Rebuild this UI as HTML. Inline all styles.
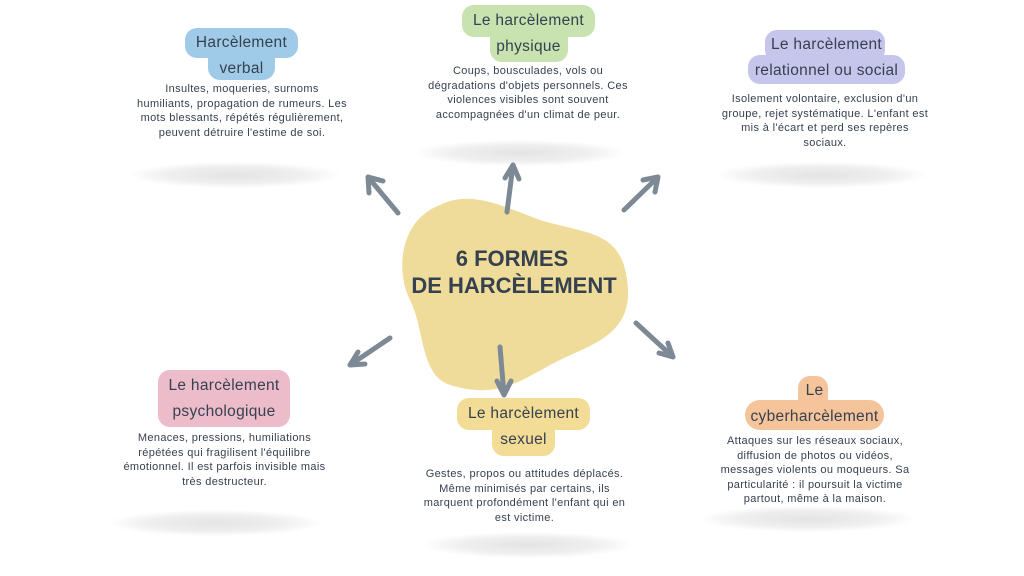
<!DOCTYPE html>
<html><head><meta charset="utf-8"><style>
*{margin:0;padding:0;box-sizing:border-box}
body{width:1024px;height:576px;background:#fff;position:relative;overflow:hidden;font-family:"Liberation Sans",sans-serif;color:#36414f}
.p{position:absolute;border-radius:12px}
.t{position:absolute;font-size:15.5px;text-align:center;white-space:nowrap;line-height:26px;letter-spacing:0.3px}
.b{position:absolute;font-size:11px;line-height:14.5px;text-align:center;letter-spacing:0.35px}
.s{position:absolute;height:26px;border-radius:50%;background:radial-gradient(ellipse at center,#e4e4e4 0%,#efefef 45%,rgba(255,255,255,0) 72%)}
</style></head><body>
<!-- shadows -->
<div class="s" style="left:130px;top:162px;width:210px"></div>
<div class="s" style="left:415px;top:140px;width:210px"></div>
<div class="s" style="left:717px;top:162px;width:210px"></div>
<div class="s" style="left:110px;top:510px;width:210px"></div>
<div class="s" style="left:423px;top:532px;width:210px"></div>
<div class="s" style="left:700px;top:506px;width:215px"></div>

<svg width="1024" height="576" style="position:absolute;left:0;top:0">
<path d="M440,205 C470,190 500,205 540,220 C590,235 625,230 628,290 C630,335 590,345 560,360 C520,380 500,400 450,385 C420,375 425,330 410,300 C395,270 400,220 440,205 Z" fill="#f0dc9a"/>
<g stroke="#7d8a96" stroke-width="5" stroke-linecap="round" fill="none">
<path d="M398,213 L368,177 M368,177 L369,193 M368,177 L383,181"/>
<path d="M507,212 L513,165 M513,165 L505,178 M513,165 L519,179"/>
<path d="M624,210 L658,177 M658,177 L643,180 M658,177 L655,192"/>
<path d="M390,338 L350,365 M350,365 L365,364 M350,365 L358,352"/>
<path d="M500,347 L504,395 M504,395 L497,381 M504,395 L511,381"/>
<path d="M636,323 L673,357 M673,357 L668,343 M673,357 L659,353"/>
</g>
<text x="512" y="266" text-anchor="middle" font-family="Liberation Sans" font-weight="bold" font-size="22" fill="#36414f">6 FORMES</text>
<text x="514" y="293" text-anchor="middle" font-family="Liberation Sans" font-weight="bold" font-size="22" fill="#36414f">DE HARCÈLEMENT</text>
</svg>

<!-- verbal -->
<div class="p" style="left:185px;top:28px;width:113px;height:30px;background:#9fcbe8"></div>
<div class="p" style="left:208px;top:46px;width:67px;height:34px;background:#9fcbe8"></div>
<div class="t" style="left:185px;top:30px;width:113px">Harcèlement<br>verbal</div>
<div class="b" style="left:137px;top:82px;width:210px">Insultes, moqueries, surnoms humiliants, propagation de rumeurs. Les mots blessants, répétés régulièrement, peuvent détruire l'estime de soi.</div>

<!-- physique -->
<div class="p" style="left:462px;top:5px;width:133px;height:32px;background:#c8e2b0"></div>
<div class="p" style="left:490px;top:25px;width:78px;height:37px;background:#c8e2b0"></div>
<div class="t" style="left:462px;top:8px;width:133px">Le harcèlement<br>physique</div>
<div class="b" style="left:423px;top:64px;width:210px">Coups, bousculades, vols ou dégradations d'objets personnels. Ces violences visibles sont souvent accompagnées d'un climat de peur.</div>

<!-- relationnel -->
<div class="p" style="left:765px;top:30px;width:120px;height:32px;background:#c6c6ec"></div>
<div class="p" style="left:748px;top:55px;width:157px;height:29px;background:#c6c6ec"></div>
<div class="t" style="left:748px;top:32px;width:157px">Le harcèlement<br>relationnel ou social</div>
<div class="b" style="left:720px;top:92px;width:210px">Isolement volontaire, exclusion d'un groupe, rejet systématique. L'enfant est mis à l'écart et perd ses repères sociaux.</div>

<!-- psychologique -->
<div class="p" style="left:158px;top:370px;width:132px;height:57px;background:#ecbccb"></div>
<div class="t" style="left:158px;top:373px;width:132px">Le harcèlement<br>psychologique</div>
<div class="b" style="left:117px;top:431px;width:215px">Menaces, pressions, humiliations répétées qui fragilisent l'équilibre émotionnel. Il est parfois invisible mais très destructeur.</div>

<!-- sexuel -->
<div class="p" style="left:457px;top:398px;width:133px;height:32px;background:#f2dc96"></div>
<div class="p" style="left:492px;top:420px;width:63px;height:36px;background:#f2dc96"></div>
<div class="t" style="left:457px;top:401px;width:133px">Le harcèlement<br>sexuel</div>
<div class="b" style="left:417px;top:467px;width:215px">Gestes, propos ou attitudes déplacés. Même minimisés par certains, ils marquent profondément l'enfant qui en est victime.</div>

<!-- cyber -->
<div class="p" style="left:798px;top:376px;width:30px;height:34px;background:#f5c49a"></div>
<div class="p" style="left:745px;top:400px;width:139px;height:30px;background:#f5c49a;border-radius:15px"></div>
<div class="t" style="left:745px;top:378px;width:139px">Le<br>cyberharcèlement</div>
<div class="b" style="left:710px;top:434px;width:210px">Attaques sur les réseaux sociaux, diffusion de photos ou vidéos, messages violents ou moqueurs. Sa particularité : il poursuit la victime partout, même à la maison.</div>
</body></html>
